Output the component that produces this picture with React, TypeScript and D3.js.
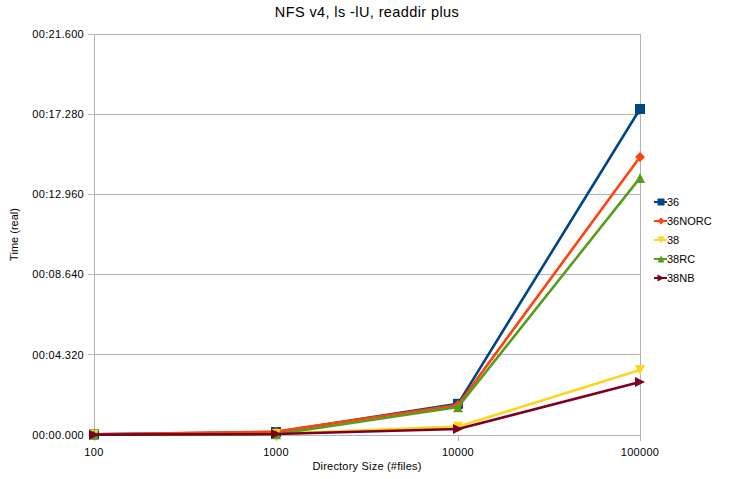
import React from "react";
import * as d3 from "d3";

const categories = ["100", "1000", "10000", "100000"];
const seriesNames = ["36", "36NORC", "38", "38RC", "38NB"];
const s36 = [0.04, 0.16, 1.68, 17.56];
const s36NORC = [0.04, 0.18, 1.62, 14.98];
const s38 = [0.03, 0.06, 0.45, 3.5];
const s38RC = [0.02, 0.04, 1.5, 13.85];
const s38NB = [0.02, 0.05, 0.32, 2.86];
const yTicks = [0, 4.32, 8.64, 12.96, 17.28, 21.6];
const colors = ["#004586", "#ff420e", "#ffd320", "#579d1c", "#7e0021"];
const markers = ["square", "diamond", "down", "up", "right"];

const W = 730, H = 479;
const M = { left: 94, right: 640, top: 34, bottom: 435 };

function fmt(v: number) {
  const s = v.toFixed(3);
  const [a, b] = s.split(".");
  return `00:${a.padStart(2, "0")}.${b}`;
}

function Marker({ type, x, y, color, s = 5 }: any) {
  if (type === "square") return <rect x={x - s} y={y - s} width={2 * s} height={2 * s} fill={color} />;
  if (type === "diamond") return <path d={`M${x},${y - s}L${x + s},${y}L${x},${y + s}L${x - s},${y}Z`} fill={color} />;
  if (type === "down") return <path d={`M${x - s},${y - s}L${x + s},${y - s}L${x},${y + s}Z`} fill={color} />;
  if (type === "up") return <path d={`M${x - s},${y + s}L${x + s},${y + s}L${x},${y - s}Z`} fill={color} />;
  return <path d={`M${x - s},${y - s}L${x + s},${y}L${x - s},${y + s}Z`} fill={color} />;
}

export default function App() {
  const x = d3.scalePoint<string>().domain(categories).range([M.left, M.right]);
  const y = d3.scaleLinear().domain([0, 21.6]).range([M.bottom, M.top]);
  const data = [s36, s36NORC, s38, s38RC, s38NB];
  const line = d3.line<number>().x((_, i) => x(categories[i])!).y((d) => y(d));
  const font = "'Liberation Sans', Arial, sans-serif";
  return (
    <svg width={W} height={H} style={{ position: "absolute", left: 0, top: 0, background: "#fff" }} fontFamily={font}>
      <rect width={W} height={H} fill="#fff" />
      {yTicks.map((t) => (
        <g key={t}>
          <line x1={M.left - 6} x2={M.right} y1={y(t)} y2={y(t)} stroke="#b3b3b3" strokeWidth={1} shapeRendering="crispEdges" />
          <text x={M.left - 10} y={y(t)} dy="0.35em" textAnchor="end" fontSize={11} letterSpacing={0.3} fill="#000">{fmt(t)}</text>
        </g>
      ))}
      <line x1={M.left} x2={M.left} y1={M.top} y2={M.bottom} stroke="#b3b3b3" shapeRendering="crispEdges" />
      <line x1={M.right} x2={M.right} y1={M.top} y2={M.bottom} stroke="#b3b3b3" shapeRendering="crispEdges" />
      {categories.map((c) => (
        <g key={c}>
          <line x1={x(c)} x2={x(c)} y1={M.bottom} y2={M.bottom + 6} stroke="#b3b3b3" shapeRendering="crispEdges" />
          <text x={x(c)} y={M.bottom + 21} textAnchor="middle" fontSize={11} letterSpacing={0.3} fill="#000">{c}</text>
        </g>
      ))}
      {data.map((d, i) => (
        <g key={i}>
          <path d={line(d)!} fill="none" stroke={colors[i]} strokeWidth={2.6} />
          {d.map((v, j) => (
            <Marker key={j} type={markers[i]} x={x(categories[j])} y={y(v)} color={colors[i]} />
          ))}
        </g>
      ))}
      <text x={(M.left + M.right) / 2} y={17} textAnchor="middle" fontSize={14.5} letterSpacing={0.4} fill="#000">NFS v4, ls -lU, readdir plus</text>
      <text x={(M.left + M.right) / 2} y={470} textAnchor="middle" fontSize={11} letterSpacing={0.2} fill="#000">Directory Size (#files)</text>
      <text transform={`translate(18,${(M.top + M.bottom) / 2}) rotate(-90)`} textAnchor="middle" fontSize={11} fill="#000">Time (real)</text>
      {seriesNames.map((n, i) => {
        const ly = 202 + i * 19;
        return (
          <g key={n}>
            <line x1={654} x2={667} y1={ly} y2={ly} stroke={colors[i]} strokeWidth={2} />
            <Marker type={markers[i]} x={661} y={ly} color={colors[i]} s={3.5} />
            <text x={667} y={ly} dy="0.35em" fontSize={11} fill="#000">{n}</text>
          </g>
        );
      })}
    </svg>
  );
}
